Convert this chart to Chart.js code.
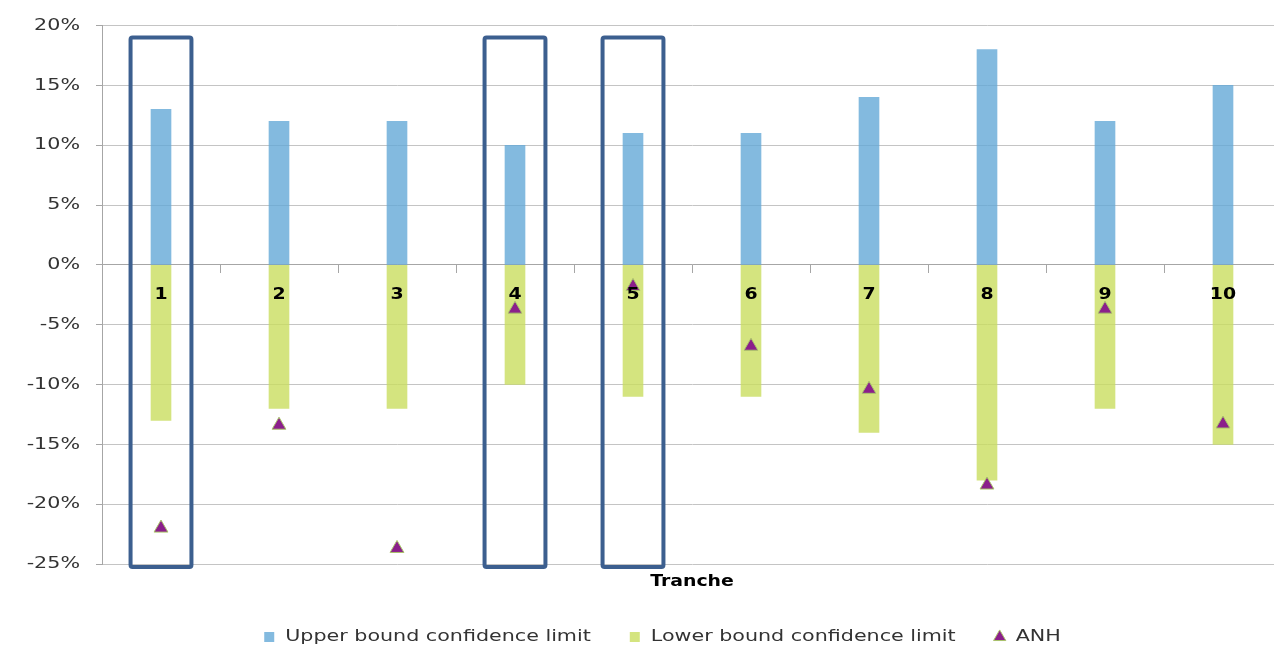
<!DOCTYPE html>
<html><head><meta charset="utf-8">
<script src="https://cdn.jsdelivr.net/npm/chart.js@4/dist/chart.umd.min.js"></script>
<style>html,body{margin:0;padding:0;background:#fff;overflow:hidden;} #wrap{width:1322px;height:649px;}</style>
</head><body><div id="wrap"><canvas id="c" width="1322" height="649"></canvas></div>
<script>
const categories = ['1','2','3','4','5','6','7','8','9','10'];
const upperBound = [13, 12, 12, 10, 11, 11, 14, 18, 12, 15];
const lowerBound = [-13, -12, -12, -10, -11, -11, -14, -18, -12, -15];
const anh = [-22.0, -13.4, -23.7, -3.7, -1.8, -6.8, -10.4, -18.4, -3.7, -13.3];
const yMin = -25, yMax = 20, yStep = 5;
const highlighted = ['1', '4', '5'];
const seriesNames = ['Upper bound confidence limit', 'Lower bound confidence limit', 'ANH'];

const FONT = 'DejaVu Sans, Verdana, sans-serif';

// The reference renders its text horizontally wider than DejaVu; stretch glyphs horizontally.
const canvas = document.getElementById('c');
const ctx2d = canvas.getContext('2d');
function stretchFor(c) { return /bold/.test(c.font) ? 1.18 : 1.29; }
const origFill = ctx2d.fillText.bind(ctx2d);
const origMeasure = ctx2d.measureText.bind(ctx2d);
ctx2d.fillText = function (t, x, y, mw) {
  const s = stretchFor(this);
  this.save(); this.translate(x, y); this.scale(s, 1);
  if (mw !== undefined) origFill(t, 0, 0, mw / s); else origFill(t, 0, 0);
  this.restore();
};
ctx2d.measureText = function (t) {
  const m = origMeasure(t), s = stretchFor(this);
  return { width: m.width * s, actualBoundingBoxAscent: m.actualBoundingBoxAscent, actualBoundingBoxDescent: m.actualBoundingBoxDescent,
    actualBoundingBoxLeft: m.actualBoundingBoxLeft * s, actualBoundingBoxRight: m.actualBoundingBoxRight * s,
    fontBoundingBoxAscent: m.fontBoundingBoxAscent, fontBoundingBoxDescent: m.fontBoundingBoxDescent };
};

const highlightPlugin = {
  id: 'highlight',
  afterDatasetsDraw(chart, args, opts) {
    const xs = chart.scales.x, ys = chart.scales.y, ctx = chart.ctx;
    const cw = xs.getPixelForValue(1) - xs.getPixelForValue(0);
    const half = cw * opts.halfWidth;
    const top = ys.getPixelForValue(opts.top), bot = ys.getPixelForValue(opts.bottom);
    ctx.save();
    ctx.strokeStyle = opts.color; ctx.lineWidth = opts.lineWidth; ctx.lineJoin = 'round';
    highlighted.forEach(c => {
      const cx = xs.getPixelForValue(categories.indexOf(c));
      ctx.beginPath();
      if (ctx.roundRect) ctx.roundRect(cx - half, top, 2 * half, bot - top, 2);
      else ctx.rect(cx - half, top, 2 * half, bot - top);
      ctx.stroke();
    });
    ctx.restore();
  }
};

new Chart(canvas, {
  data: {
    labels: categories,
    datasets: [
      { type: 'bar', label: seriesNames[0], data: upperBound, backgroundColor: 'rgba(100,169,215,0.8)', borderWidth: 0, barThickness: 20, grouped: false, xAxisID: 'x', yAxisID: 'y' },
      { type: 'bar', label: seriesNames[1], data: lowerBound, backgroundColor: 'rgba(201,221,95,0.8)', borderWidth: 0, barThickness: 20, grouped: false, xAxisID: 'x', yAxisID: 'y' },
      { type: 'line', label: seriesNames[2], data: anh, showLine: false, pointStyle: 'triangle', pointRadius: 8, pointHoverRadius: 8,
        pointBackgroundColor: '#8b1f8b', pointBorderColor: '#a9c46a', pointBorderWidth: 1, backgroundColor: '#8b1f8b', borderColor: '#a9c46a', order: -1, xAxisID: 'x', yAxisID: 'y' }
    ]
  },
  options: {
    responsive: false, animation: false,
    layout: { padding: { left: 0, right: 0, top: 25, bottom: 0 } },
    plugins: {
      tooltip: { enabled: false },
      highlight: { halfWidth: 0.258, top: 19, bottom: -25.25, color: '#3c5f8f', lineWidth: 4 },
      legend: {
        position: 'bottom', maxHeight: 56,
        labels: {
          usePointStyle: true, boxHeight: 10, padding: 36, color: '#333', font: { family: FONT, size: 16 },
          sort: (a, b) => a.datasetIndex - b.datasetIndex,
          generateLabels(chart) {
            const items = Chart.defaults.plugins.legend.labels.generateLabels(chart);
            items.forEach(it => {
              const ds = chart.data.datasets[it.datasetIndex];
              if (ds.type === 'line') { it.pointStyle = 'triangle'; it.fillStyle = '#8b1f8b'; it.strokeStyle = '#a9c46a'; it.lineWidth = 1; }
              else { it.pointStyle = 'rect'; it.lineWidth = 0; it.strokeStyle = 'rgba(0,0,0,0)'; }
            });
            return items;
          }
        }
      }
    },
    scales: {
      x: {
        type: 'category', position: { y: 0 }, offset: true,
        grid: { display: true, drawOnChartArea: false, drawTicks: true, tickLength: 8, color: '#a6a6a6', offset: true },
        border: { display: true, color: '#a6a6a6', width: 1 },
        ticks: { z: 1, font: { family: FONT, size: 16, weight: 'bold' }, color: '#000', padding: 12, maxRotation: 0, autoSkip: false }
      },
      x2: {
        type: 'category', labels: categories, position: 'bottom', offset: true,
        grid: { display: false }, border: { display: false }, ticks: { display: false },
        title: { display: true, text: 'Tranche', color: '#000', font: { family: FONT, size: 16, weight: 'bold' }, padding: { top: 0, bottom: 2 } },
        afterFit(s) { s.height = 29; }
      },
      y: {
        min: yMin, max: yMax,
        ticks: { stepSize: yStep, callback: v => v + '%', color: '#333', font: { family: FONT, size: 16 }, padding: 16 },
        grid: { color: '#c4c4c4', tickLength: 6, tickColor: '#a6a6a6' },
        border: { color: '#a6a6a6' },
        afterFit(s) { s.width = 102; }
      },
      yRight: {
        type: 'linear', position: 'right', min: yMin, max: yMax,
        grid: { display: false }, border: { display: false }, ticks: { display: false },
        afterFit(s) { s.width = 40; }
      }
    }
  },
  plugins: [highlightPlugin]
});
</script>
</body></html>
